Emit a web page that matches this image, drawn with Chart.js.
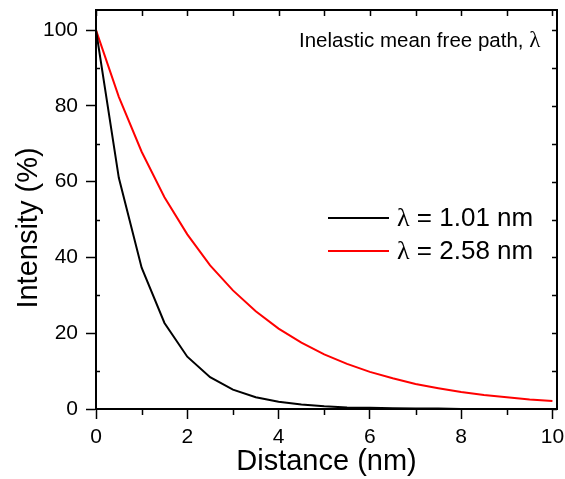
<!DOCTYPE html>
<html>
<head>
<meta charset="utf-8">
<script src="https://cdn.jsdelivr.net/npm/chart.js@4.4.0/dist/chart.umd.min.js"></script>
<style>
  html, body { margin: 0; padding: 0; background: #fff; }
  #wrap { width: 565px; height: 479px; }
</style>
</head>
<body>
<div id="wrap"><canvas id="decay-chart"></canvas></div>
<script>
// distance from surface (nm), sampled every 0.5 nm
var distance = [0, 0.5, 1, 1.5, 2, 2.5, 3, 3.5, 4, 4.5, 5, 5.5, 6, 6.5, 7, 7.5, 8, 8.5, 9, 9.5, 10];
// transmitted intensity (%) for each mean free path
var intensityShort = [100, 61, 37.3, 22.7, 13.8, 8.4, 5.1, 3.1, 1.9, 1.2, 0.7, 0.4, 0.3, 0.2, 0.1, 0.1, 0, 0, 0, 0, 0];
var intensityLong = [100, 82.4, 67.9, 55.9, 46.1, 37.9, 31.3, 25.8, 21.2, 17.5, 14.4, 11.9, 9.8, 8.1, 6.6, 5.5, 4.5, 3.7, 3.1, 2.5, 2.1];
var seriesLabels = ["= 1.01 nm", "= 2.58 nm"];
var seriesColors = ["#000000", "#ff0000"];
var xMajorTicks = [0, 2, 4, 6, 8, 10];
var yMajorTicks = [0, 20, 40, 60, 80, 100];

function toPoints(xs, ys) {
    return xs.map(function (x, i) { return { x: x, y: ys[i] }; });
}

var FONT = "'Liberation Sans', Arial, sans-serif";
var SERIF = "'Liberation Serif', 'Times New Roman', serif";

// frame, minor ticks, mirrored ticks, y title, legend and the corner note
var framePlugin = {
    id: "frame",
    afterDraw: function (chart) {
        var ctx = chart.ctx;
        var a = chart.chartArea;
        var xs = chart.scales.x;
        var ys = chart.scales.y;
        ctx.save();
        ctx.strokeStyle = "#000";
        ctx.lineWidth = 2;
        ctx.strokeRect(a.left, a.top, a.right - a.left, a.bottom - a.top);

        ctx.lineWidth = 1.5;
        ctx.beginPath();
        for (var v = 0; v <= 10; v++) {
            var px = Math.round(xs.getPixelForValue(v)) + 0.5;
            if (v % 2 === 1) {
                ctx.moveTo(px, a.bottom);
                ctx.lineTo(px, a.bottom + 6);
            }
            ctx.moveTo(px, a.top);
            ctx.lineTo(px, a.top + 6);
        }
        for (var w = 0; w <= 100; w += 10) {
            var py = Math.round(ys.getPixelForValue(w)) + 0.5;
            if (w % 20 === 10) {
                ctx.moveTo(a.left, py);
                ctx.lineTo(a.left + 4, py);
            }
            ctx.moveTo(a.right, py);
            ctx.lineTo(a.right - 5, py);
        }
        ctx.stroke();

        ctx.fillStyle = "#000";
        ctx.textBaseline = "middle";

        // y axis title
        ctx.save();
        ctx.translate(29, 228);
        ctx.rotate(-Math.PI / 2);
        ctx.textAlign = "center";
        ctx.font = "29px " + FONT;
        ctx.fillText("Intensity (%)", 0, 0);
        ctx.restore();

        // corner note
        var note = "Inelastic mean free path, ";
        ctx.font = "20.5px " + FONT;
        var nw = ctx.measureText(note).width;
        ctx.fillText(note, 299, 41);
        ctx.font = "23px " + SERIF;
        ctx.fillText("\u03bb", 299 + nw, 41);

        // legend
        var rows = [218, 251];
        chart.data.datasets.forEach(function (ds, i) {
            ctx.strokeStyle = ds.borderColor;
            ctx.lineWidth = 2;
            ctx.beginPath();
            ctx.moveTo(328, rows[i]);
            ctx.lineTo(389, rows[i]);
            ctx.stroke();
            ctx.font = "26px " + SERIF;
            ctx.fillStyle = "#000";
            ctx.fillText("\u03bb", 397, rows[i] + 1);
            var lw = ctx.measureText("\u03bb").width;
            ctx.font = "26px " + FONT;
            ctx.fillText(" " + seriesLabels[i], 397 + lw, rows[i] + 1);
        });
        ctx.restore();
    }
};

var ctx2d = document.getElementById("decay-chart").getContext("2d");

var config = {
    type: "line",
    data: {
        datasets: [
            {
                label: seriesLabels[0],
                data: toPoints(distance, intensityShort),
                borderColor: seriesColors[0],
                borderWidth: 2,
                pointRadius: 0,
                tension: 0,
                fill: false,
            },
            {
                label: seriesLabels[1],
                data: toPoints(distance, intensityLong),
                borderColor: seriesColors[1],
                borderWidth: 2,
                pointRadius: 0,
                tension: 0,
                fill: false,
            },
        ],
    },
    options: {
        responsive: true,
        maintainAspectRatio: false,
        animation: false,
        layout: { padding: { top: 10, right: 8, left: 0, bottom: 0 } },
        plugins: {
            legend: { display: false },
            tooltip: { enabled: false },
        },
        scales: {
            x: {
                type: "linear",
                min: 0,
                max: 10.1,
                afterBuildTicks: function (scale) {
                    scale.ticks = xMajorTicks.map(function (v) { return { value: v }; });
                },
                afterFit: function (scale) {
                    scale.height = 70;
                    scale.paddingLeft = 0;
                    scale.paddingRight = 0;
                },
                ticks: {
                    color: "#000",
                    font: { family: FONT, size: 21 },
                    padding: 6,
                    maxRotation: 0,
                },
                grid: {
                    drawOnChartArea: false,
                    tickLength: 10,
                    tickWidth: 1.5,
                    color: "#000",
                },
                border: { display: true, color: "#000", width: 2 },
                title: {
                    display: true,
                    text: "Distance (nm)",
                    color: "#000",
                    font: { family: FONT, size: 29 },
                    padding: { top: 0, bottom: 0 },
                },
            },
            y: {
                min: 0,
                max: 105.3,
                afterBuildTicks: function (scale) {
                    scale.ticks = yMajorTicks.map(function (v) { return { value: v }; });
                },
                afterFit: function (scale) {
                    scale.width = 96;
                    scale.paddingTop = 0;
                    scale.paddingBottom = 0;
                },
                ticks: {
                    color: "#000",
                    font: { family: FONT, size: 21 },
                    padding: 8,
                },
                grid: {
                    drawOnChartArea: false,
                    tickLength: 10,
                    tickWidth: 1.5,
                    color: "#000",
                },
                border: { display: true, color: "#000", width: 2 },
            },
        },
    },
    plugins: [framePlugin],
};

var decayChart = new Chart(ctx2d, config);
</script>
</body>
</html>
